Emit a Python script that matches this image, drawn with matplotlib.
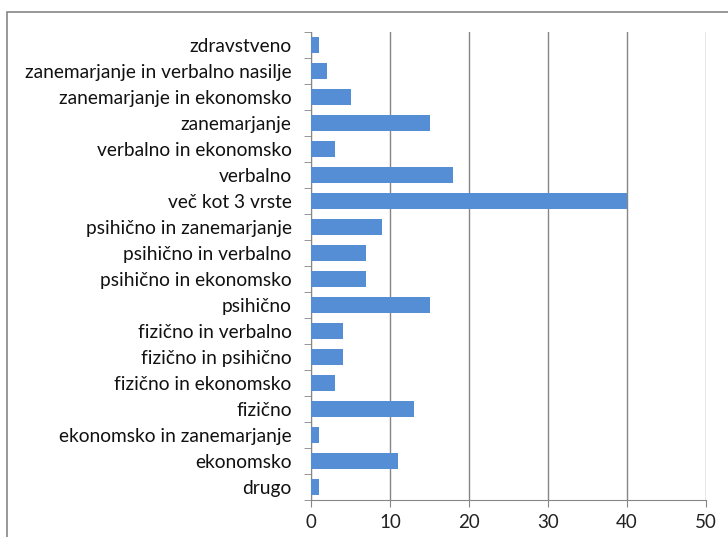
import matplotlib.pyplot as plt
from matplotlib.patches import Rectangle
import numpy as np

# categories from bottom to top
categories = ['drugo', 'ekonomsko', 'ekonomsko in zanemarjanje', 'fizično',
              'fizično in ekonomsko', 'fizično in psihično', 'fizično in verbalno',
              'psihično', 'psihično in ekonomsko', 'psihično in verbalno',
              'psihično in zanemarjanje', 'več kot 3 vrste', 'verbalno',
              'verbalno in ekonomsko', 'zanemarjanje', 'zanemarjanje in ekonomsko',
              'zanemarjanje in verbalno nasilje', 'zdravstveno']
values = [1, 11, 1, 13, 3, 4, 4, 15, 7, 7, 9, 40, 18, 3, 15, 5, 2, 1]
xticks = [0, 10, 20, 30, 40, 50]

plt.rcParams['font.family'] = ['Lato', 'DejaVu Sans']

fig = plt.figure(figsize=(7.28, 5.37), dpi=100)
ax = fig.add_axes([311/728, 1 - 500/537, (706 - 311)/728, (500 - 32)/537])

# outer chart border
fig.patches.append(Rectangle((7/728, -0.1), 1.0, 1 - 12/537 + 0.1,
                             transform=fig.transFigure, fill=False,
                             edgecolor='#868686', linewidth=1.2))

y = np.arange(len(categories))
ax.barh(y, values, height=0.62, color='#558ED5', zorder=3)

ax.set_xlim(0, 50)
ax.set_ylim(-0.5, len(categories) - 0.5)
ax.set_xticks(xticks)
ax.set_xticklabels([str(t) for t in xticks], fontsize=13.5, color='#222222')
ax.set_yticks(y)
ax.set_yticklabels(categories, fontsize=13.8, color='#111111')
ax.tick_params(axis='y', length=0, pad=14)
ax.set_yticks(np.arange(len(categories) + 1) - 0.5, minor=True)
ax.tick_params(axis='y', which='minor', length=5, color='#868686')
ax.tick_params(axis='x', length=5, color='#868686', pad=5)

ax.grid(axis='x', color='#868686', linewidth=1, zorder=0)
for s in ['top', 'right']:
    ax.spines[s].set_visible(False)
for s in ['left', 'bottom']:
    ax.spines[s].set_color('#868686')

fig.savefig('out.png', dpi=100)
